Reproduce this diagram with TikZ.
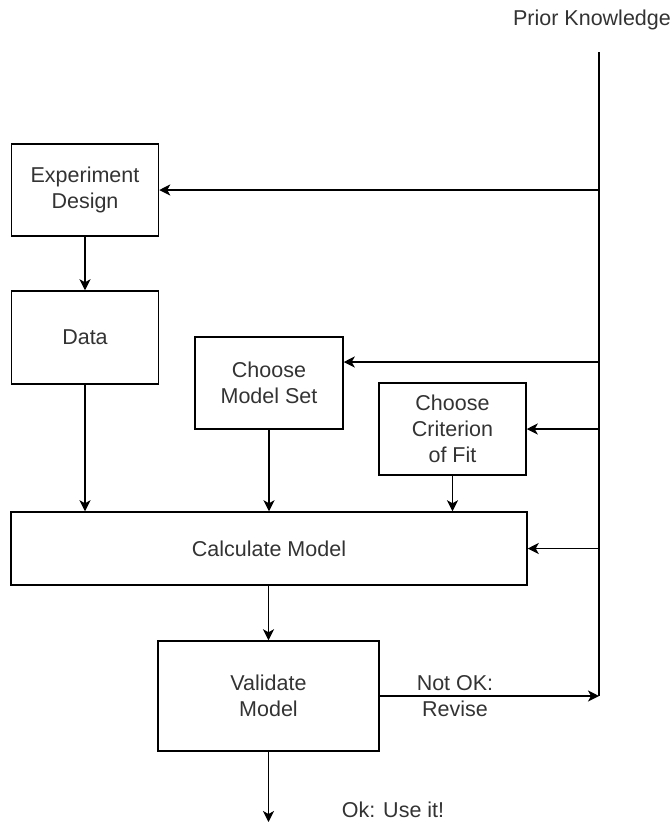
\documentclass[tikz,border=0pt]{standalone}
\usepackage{fontspec}
\setmainfont{Liberation Sans}
\usetikzlibrary{arrows.meta,calc}
\definecolor{txt}{HTML}{333333}
\tikzset{
  box/.style={draw=black, line width=1.5pt, rectangle, align=center,
              text=txt, font=\fontsize{21.5}{26}\selectfont, inner sep=0pt},
  flow/.style={draw=black, line width=1.5pt,
               -{Stealth[length=11pt,width=11pt,inset=3pt]}},
  lbl/.style={text=txt, font=\fontsize{21.5}{26}\selectfont, align=center, inner sep=0pt}
}
\begin{document}
\begin{tikzpicture}[x=1pt,y=-1pt]
  \useasboundingbox (0,0) rectangle (672,823);

  % process boxes
  \node[box, minimum width=147pt, minimum height=92pt] (ed)   at (85,190)  {Experiment\\Design};
  \node[box, minimum width=147pt, minimum height=93pt] (data) at (85,337.5) {Data};
  \node[box, minimum width=148pt, minimum height=92pt] (cms)  at (269,383) {Choose\\Model Set};
  \node[box, minimum width=147pt, minimum height=92pt] (ccf)  at (452.5,429) {Choose\\Criterion\\ of Fit};
  \node[box, minimum width=516pt, minimum height=73pt] (calc) at (269,548.5) {Calculate Model};
  \node[box, minimum width=221pt, minimum height=110pt] (val) at (268.5,696) {Validate\\Model};

  % prior knowledge feed line
  \node[lbl] (pk) at (592,20) {Prior Knowledge};
  \coordinate (top) at (599,52);
  \coordinate (bot) at (599,696);
  \coordinate (tcms) at (599,362);
  \draw[line width=1.5pt] (top) -- (bot);

  \draw[flow] (top |- ed.east) -- (ed.east);
  \draw[flow] (tcms) -- (cms.east |- tcms);
  \draw[flow] (top |- ccf.east) -- (ccf.east);
  \draw[flow] (top |- calc.east) -- (calc.east);

  % main flow
  \draw[flow] (ed.south) -- (data.north);
  \draw[flow] (data.south) -- (data.south |- calc.north);
  \draw[flow] (cms.south) -- (cms.south |- calc.north);
  \draw[flow] (ccf.south) -- (ccf.south |- calc.north);
  \draw[flow] (calc.south -| val.north) -- (val.north);

  % validation outcomes
  \draw[flow] (val.east) -- (bot);
  \node[lbl] (nok) at (455,696) {Not OK:\\Revise};
  \coordinate (out) at (268.5,822);
  \draw[flow] (val.south) -- (out);
  \node[lbl] (ok) at (393,810) {Ok: Use it!};
\end{tikzpicture}
\end{document}
